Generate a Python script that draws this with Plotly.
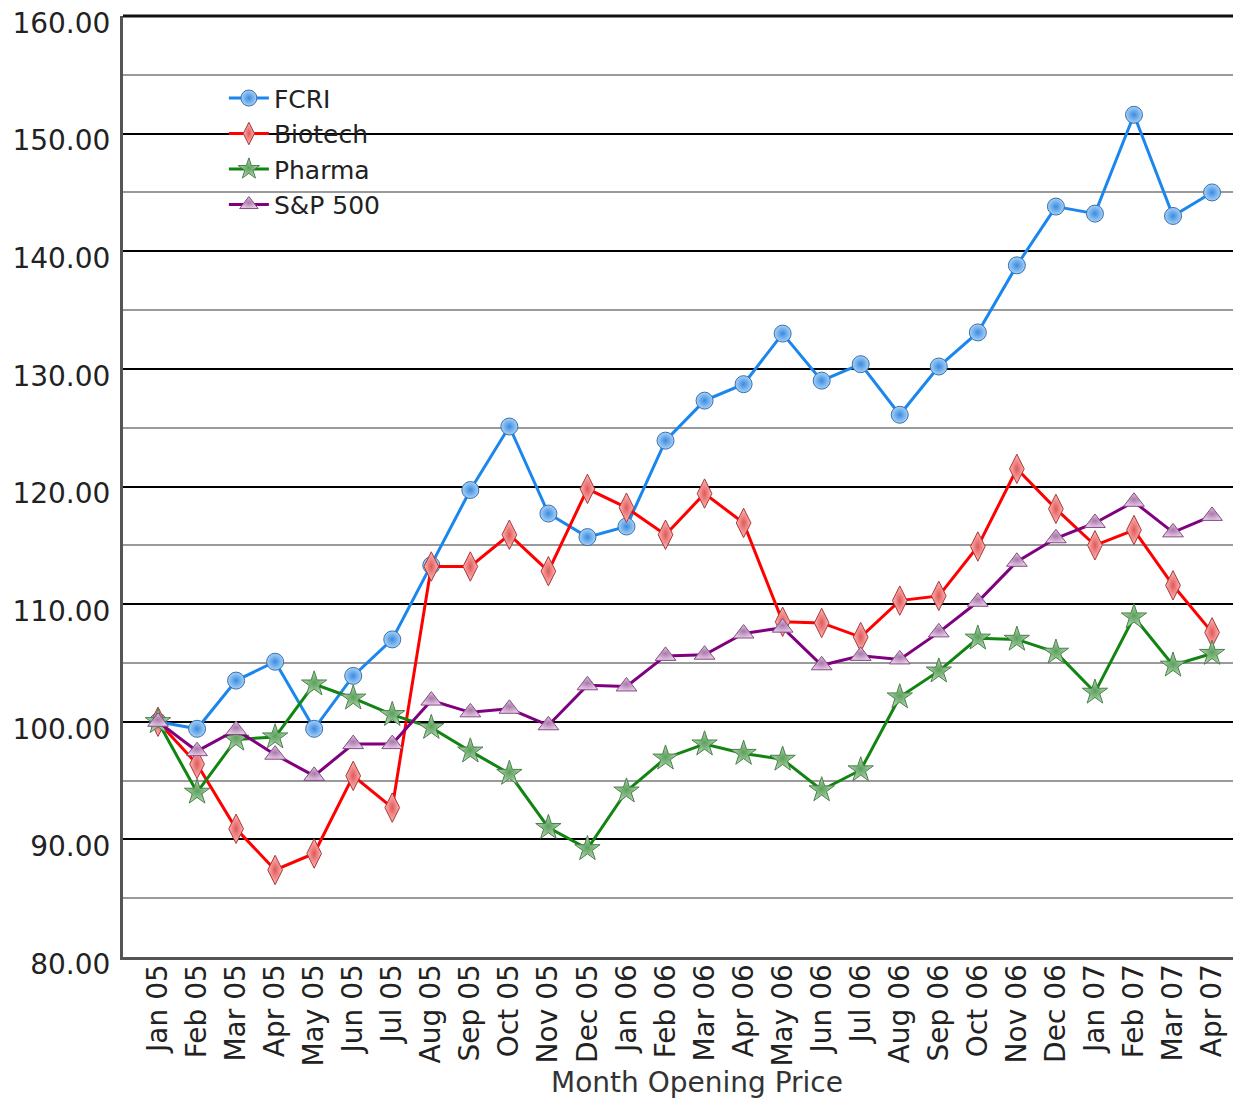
import plotly.graph_objects as go

months = ["Jan 05", "Feb 05", "Mar 05", "Apr 05", "May 05", "Jun 05", "Jul 05",
          "Aug 05", "Sep 05", "Oct 05", "Nov 05", "Dec 05", "Jan 06", "Feb 06",
          "Mar 06", "Apr 06", "May 06", "Jun 06", "Jul 06", "Aug 06", "Sep 06",
          "Oct 06", "Nov 06", "Dec 06", "Jan 07", "Feb 07", "Mar 07", "Apr 07"]

fcri = [100.0, 99.4, 103.5, 105.1, 99.4, 103.9, 107.0, 113.3, 119.7, 125.1,
        117.7, 115.7, 116.6, 123.9, 127.3, 128.7, 133.0, 129.0, 130.4, 126.1,
        130.2, 133.1, 138.8, 143.8, 143.2, 151.6, 143.0, 145.0]
biotech = [100.0, 96.4, 90.9, 87.4, 88.8, 95.4, 92.7, 113.2, 113.2, 115.9,
           112.8, 119.8, 118.2, 115.9, 119.4, 116.9, 108.5, 108.4, 107.2, 110.3,
           110.7, 114.9, 121.5, 118.1, 115.0, 116.3, 111.6, 107.6]
pharma = [100.0, 94.0, 98.5, 98.7, 103.2, 102.0, 100.6, 99.5, 97.5, 95.6,
          91.0, 89.2, 94.1, 96.9, 98.1, 97.3, 96.8, 94.2, 95.9, 102.1,
          104.3, 107.1, 107.0, 105.9, 102.5, 108.9, 104.8, 105.8]
sp500 = [100.0, 97.5, 99.3, 97.2, 95.4, 98.1, 98.1, 101.8, 100.8, 101.1,
         99.7, 103.1, 103.0, 105.6, 105.7, 107.5, 108.0, 104.8, 105.6, 105.3,
         107.6, 110.2, 113.6, 115.6, 116.9, 118.7, 116.1, 117.5]

y_ticks = [80, 90, 100, 110, 120, 130, 140, 150, 160]
x_title = "Month Opening Price"

FONT = "DejaVu Sans"

series = [
    ("FCRI", fcri, "#1a86ee", "circle", 17, "#a5d2f8", "#3c8ae0", "#3d6fa8"),
    ("Biotech", biotech, "#ff0000", "diamond-tall", 21, "#ffb8b8", "#e05858", "#a83838"),
    ("Pharma", pharma, "#118411", "star", 19, "#b0dcb0", "#5c9e5c", "#4d7d4d"),
    ("S&P 500", sp500, "#800080", "triangle-up", 18, "#e6c6e6", "#a878a8", "#805080"),
]

fig = go.Figure()
for name, vals, lc, sym, sz, c1, c2, ol in series:
    fig.add_trace(go.Scatter(
        x=months, y=vals, name=name, mode="lines+markers",
        line=dict(color=lc, width=3),
        marker=dict(symbol=sym, size=sz, color=c1,
                    gradient=dict(type="radial", color=c2),
                    line=dict(color=ol, width=1)),
    ))

fig.update_layout(
    width=1233, height=1092,
    margin=dict(l=115, r=2, t=8, b=143, autoexpand=False),
    paper_bgcolor="white", plot_bgcolor="white",
    font=dict(family=FONT, size=27, color="#222222"),
    showlegend=True,
    legend=dict(x=0.0904, y=0.937, xanchor="left", yanchor="top",
                bgcolor="rgba(0,0,0,0)", font=dict(family=FONT, size=25, color="#222222"),
                itemwidth=40, tracegroupgap=0),
    xaxis=dict(
        type="category", range=[-0.897, 27.69], automargin=False,
        tickangle=-90, tickfont=dict(family=FONT, size=28, color="#222222"),
        showgrid=False, showline=True, linecolor="#555555", linewidth=3,
        ticks="", zeroline=False, ticklabelstandoff=-7,
    ),
    yaxis=dict(
        range=[80, 160], tickvals=y_ticks, tickformat=".2f", automargin=False,
        tickfont=dict(family=FONT, size=28, color="#222222"),
        ticklabeloverflow="allow", ticklabelshift=7,
        showgrid=True, gridcolor="#000000", gridwidth=2,
        minor=dict(dtick=5, showgrid=True, gridcolor="#9a9a9a", gridwidth=2),
        showline=True, linecolor="#555555", linewidth=3,
        ticks="", ticklabelstandoff=4, zeroline=False,
    ),
    annotations=[
        dict(text=x_title, xref="paper", yref="paper", x=0.514, y=-0.133,
             xanchor="center", yanchor="middle", showarrow=False,
             font=dict(family=FONT, size=28, color="#333333")),
    ],
    shapes=[
        dict(type="rect", xref="paper", yref="paper", x0=0.0448, x1=0.2957,
             y0=0.7386, y1=0.953, fillcolor="white", line=dict(width=0), layer="between"),
        dict(type="line", xref="paper", yref="paper", x0=0, x1=1, y0=1, y1=1,
             line=dict(color="#111111", width=3), layer="above"),
        dict(type="line", xref="paper", yref="paper", x0=1, x1=1, y0=0, y1=1,
             line=dict(color="#333333", width=2), layer="above"),
    ],
)

fig.write_html("out.html")
